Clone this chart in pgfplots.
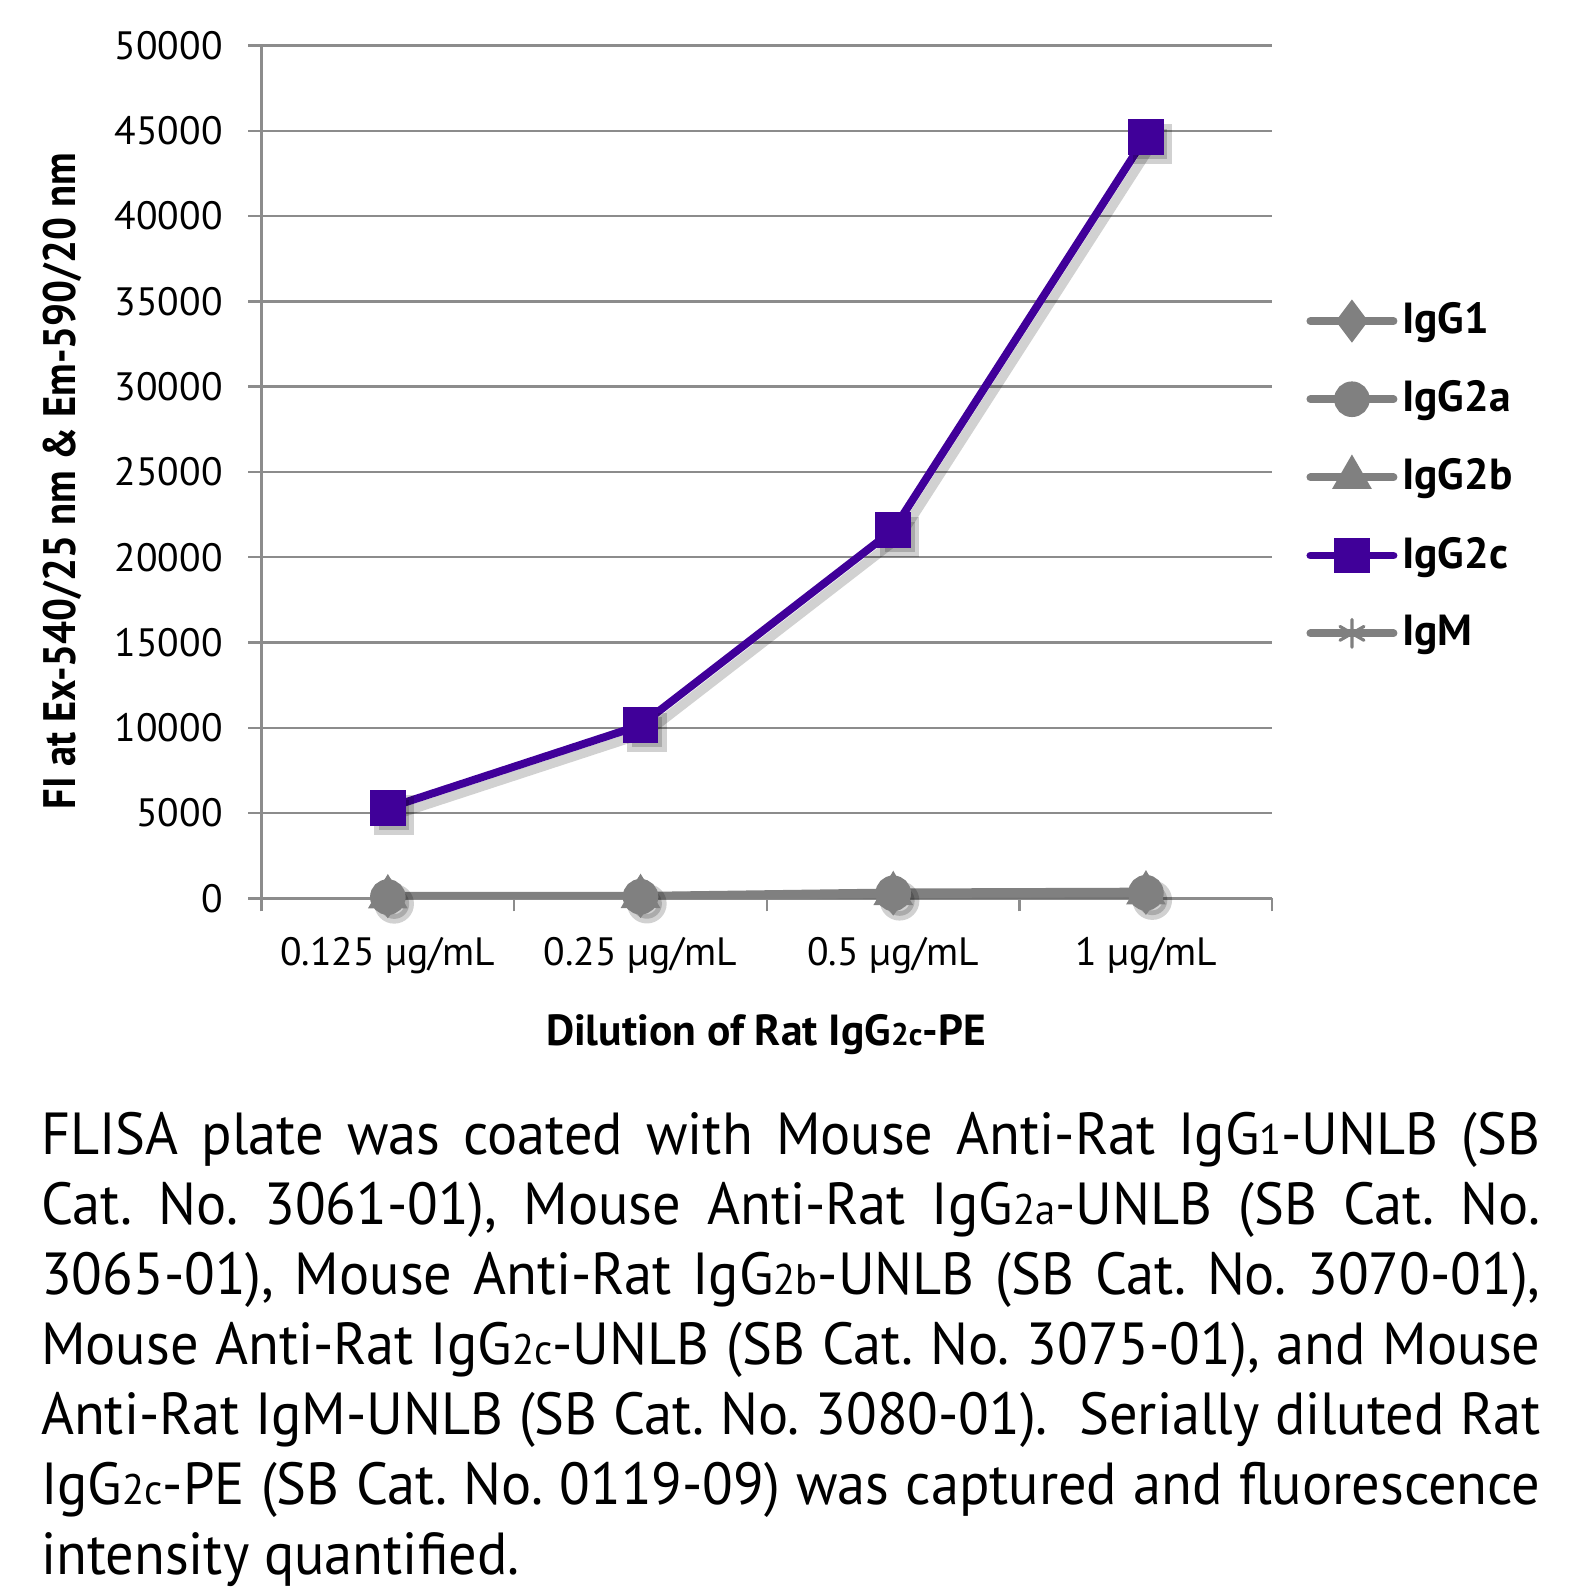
\documentclass[border=0pt]{standalone}
\usepackage{pgfplots}
\pgfplotsset{compat=1.18}
\usepackage{fontspec}
\setmainfont{PT Sans}
\newfontfamily\capfont{PT Sans}[FakeStretch=0.95]
\usepackage{graphicx}
\definecolor{igtc}{HTML}{400099}
\definecolor{gr}{HTML}{808080}
\definecolor{gridc}{HTML}{8C8C8C}
\newcommand\sm[1]{\scalebox{0.72}{#1}}
\newcommand\jl[1]{\hbox to 379pt{#1}}
\frenchspacing
\begin{document}
\begin{tikzpicture}
\begin{axis}[
 width=255.5pt, height=215.6pt, scale only axis,
 xmin=-0.5, xmax=3.5, ymin=0, ymax=50000,
 axis x line*=bottom, axis y line*=left,
 axis line style={gridc, line width=0.6pt},
 xtick={-0.5,0.5,1.5,2.5,3.5}, xticklabels={},
 extra x ticks={0,1,2,3},
 extra x tick labels={0.125 µg/mL, 0.25 µg/mL, 0.5 µg/mL, 1 µg/mL},
 extra x tick style={major tick length=0pt, grid=none, xticklabel style={yshift=-6.3pt}},
 ytick={0,5000,...,50000},
 ymajorgrids, grid style={gridc, line width=0.6pt},
 tick align=outside, major tick length=3.3pt,
 tick style={gridc, line width=0.6pt},
 scaled y ticks=false,
 /pgf/number format/assume math mode=true,
 yticklabel style={/pgf/number format/.cd, fixed, 1000 sep={}, /tikz/.cd, xshift=-3pt},
 tick label style={font=\fontsize{10}{12}\selectfont},
 legend style={draw=none, fill=none, at={(1.033,0.494)}, anchor=west,
   font=\bfseries\fontsize{11}{13}\selectfont, row sep=8pt, inner sep=0pt,
   nodes={inner sep=1.2pt}},
 legend cell align=left,
 legend image code/.code={\draw[mark repeat=2,mark phase=2,line cap=round,#1] plot coordinates {(0pt,0pt) (10.5pt,0pt) (21pt,0pt)};},
]
% shadows
\addplot[forget plot, black, opacity=0.18, line width=2.4pt, mark=square*, mark size=3.8pt, xshift=1.6pt, yshift=-1.8pt] coordinates {(0,5300)(1,10150)(2,21600)(3,44650)};
\addplot[forget plot, black, opacity=0.18, line width=2.4pt, mark=*, mark size=3.8pt, xshift=1.6pt, yshift=-1.8pt] coordinates {(0,100)(1,110)(2,280)(3,320)};
% series
\addplot[gr, line width=2pt, mark=diamond*, mark size=3.8pt] coordinates {(0,100)(1,120)(2,260)(3,300)};
\addlegendentry{IgG1}
\addplot[gr, line width=2pt, mark=*, mark size=3.5pt] coordinates {(0,80)(1,100)(2,300)(3,330)};
\addlegendentry{IgG2a}
\addplot[gr, line width=2pt, mark=triangle*, mark size=3.8pt] coordinates {(0,90)(1,110)(2,280)(3,320)};
\addlegendentry{IgG2b}
\addplot[igtc, line width=2pt, mark=square*, mark size=3.5pt] coordinates {(0,5300)(1,10150)(2,21600)(3,44650)};
\addlegendentry{IgG2c}
\addplot[gr, line width=2pt, mark=asterisk, mark size=3.5pt, mark options={line width=0.8pt}] coordinates {(0,150)(1,150)(2,350)(3,400)};
\addlegendentry{IgM}
\end{axis}
\node[rotate=90, font=\bfseries\fontsize{11.5}{13}\selectfont] at (-50.2pt,105.5pt) {\scalebox{0.89}[1]{FI at Ex-540/25 nm \& Em-590/20 nm}};
\node[font=\bfseries\fontsize{11}{13}\selectfont] at (127.5pt,-34.5pt) {Dilution of Rat IgG\sm{2c}-PE};
\node[anchor=base west, inner sep=0pt] at (-55.9pt,-64.8pt) {\parbox[t]{379pt}{\capfont\fontsize{15}{17.67}\selectfont
\jl{FLISA plate was coated with Mouse Anti-Rat IgG\sm{1}-UNLB (SB}
\jl{Cat. No. 3061-01), Mouse Anti-Rat IgG\sm{2a}-UNLB (SB Cat. No.}
\jl{3065-01), Mouse Anti-Rat IgG\sm{2b}-UNLB (SB Cat. No. 3070-01),}
\jl{Mouse Anti-Rat IgG\sm{2c}-UNLB (SB Cat. No. 3075-01), and Mouse}
\jl{Anti-Rat IgM-UNLB (SB Cat. No. 3080-01).\ \ Serially diluted Rat}
\jl{IgG\sm{2c}-PE (SB Cat. No. 0119-09) was captured and fluorescence}
\hbox{intensity quantified.}}};
\pgfresetboundingbox
\path (-66.1pt,-174.3pt) rectangle (333.9pt,227.1pt);
\end{tikzpicture}
\end{document}
